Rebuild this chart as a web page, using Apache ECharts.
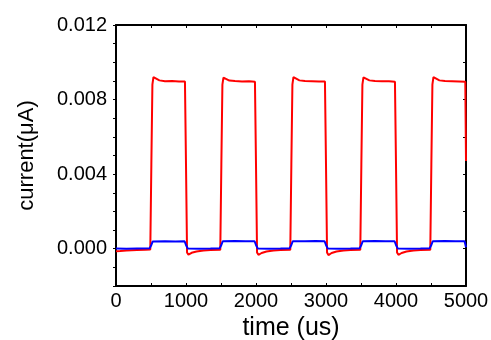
<!DOCTYPE html>
<html>
<head>
<meta charset="utf-8">
<script src="https://cdn.jsdelivr.net/npm/echarts@6/dist/echarts.min.js"></script>
<style>
  html, body { margin: 0; padding: 0; background: #fff; }
  #main { width: 491px; height: 340px; }
</style>
</head>
<body>
<div id="main"></div>
<script>
// time (us) / current (uA) pairs
var redPoints = [
  [0, -0.00013], [60, -0.00012], [150, -0.0001], [300, -0.00007], [420, -0.00005], [490, -0.00004],
  [505, 0.0045], [520, 0.0088], [535, 0.0092], [560, 0.00912], [620, 0.00903], [700, 0.00898], [800, 0.009], [900, 0.00897], [985, 0.00897],
  [1000, 0.0045], [1015, -0.0002], [1035, -0.00032], [1080, -0.00022], [1150, -0.00015], [1250, -0.0001], [1350, -0.00007], [1490, -0.00005],
  [1505, 0.0045], [1520, 0.0088], [1535, 0.00918], [1560, 0.0091], [1620, 0.00902], [1700, 0.00899], [1800, 0.00897], [1900, 0.00898], [1985, 0.00896],
  [2000, 0.0045], [2015, -0.0002], [2035, -0.00033], [2080, -0.00023], [2150, -0.00015], [2250, -0.0001], [2350, -0.00007], [2490, -0.00005],
  [2505, 0.0045], [2520, 0.0088], [2535, 0.0092], [2560, 0.00911], [2620, 0.00903], [2700, 0.00899], [2800, 0.00898], [2900, 0.00897], [2985, 0.00897],
  [3000, 0.0045], [3015, -0.0002], [3035, -0.00034], [3080, -0.00023], [3150, -0.00015], [3250, -0.0001], [3350, -0.00007], [3490, -0.00005],
  [3505, 0.0045], [3520, 0.0088], [3535, 0.00919], [3560, 0.0091], [3620, 0.00903], [3700, 0.00899], [3800, 0.00898], [3900, 0.00898], [3985, 0.00896],
  [4000, 0.0045], [4015, -0.0002], [4035, -0.00033], [4080, -0.00023], [4150, -0.00015], [4250, -0.0001], [4350, -0.00007], [4490, -0.00005],
  [4505, 0.0045], [4520, 0.0088], [4535, 0.0092], [4560, 0.00911], [4620, 0.00903], [4700, 0.00899], [4800, 0.00898], [4900, 0.00897], [4990, 0.00896],
  [5000, 0.0047]
];

var bluePoints = [
  [0, 0.00001], [150, 0.0], [300, 0.00001], [480, 0.00002], [505, 0.0002], [525, 0.00039], [700, 0.0004], [850, 0.00039], [980, 0.0004],
  [1000, 0.0002], [1025, 0.00001], [1200, 0.0], [1350, 0.00001], [1480, 0.00002], [1505, 0.0002], [1525, 0.0004], [1700, 0.00041], [1850, 0.0004], [1980, 0.0004],
  [2000, 0.0002], [2025, 0.00001], [2200, 0.0], [2350, 0.00001], [2480, 0.00002], [2505, 0.0002], [2525, 0.0004], [2700, 0.0004], [2850, 0.00041], [2980, 0.0004],
  [3000, 0.0002], [3025, 0.00001], [3200, 0.0], [3350, 0.00001], [3480, 0.00002], [3505, 0.0002], [3525, 0.0004], [3700, 0.00041], [3850, 0.0004], [3980, 0.0004],
  [4000, 0.0002], [4025, 0.00001], [4200, 0.0], [4350, 0.00001], [4480, 0.00002], [4505, 0.0002], [4525, 0.0004], [4700, 0.00041], [4850, 0.0004], [4980, 0.0004],
  [5000, 0.00008]
];

var chart = echarts.init(document.getElementById('main'), null, { renderer: 'canvas' });

var font = 'Liberation Sans, Arial, sans-serif';
var lineStyle = { color: '#000', width: 2 };

var option = {
  animation: false,
  backgroundColor: '#fff',
  grid: { left: 116, right: 25, top: 25, bottom: 54, containLabel: false, outerBoundsMode: 'none' },
  xAxis: [{
    type: 'value',
    min: 0,
    max: 5000,
    interval: 500,
    name: 'time (us)',
    nameLocation: 'middle',
    nameGap: 27,
    nameTextStyle: { fontSize: 25, color: '#000', fontFamily: font },
    axisLine: { show: true, onZero: false, lineStyle: lineStyle },
    axisTick: { show: true, inside: true, length: 3, lineStyle: { color: '#000', width: 1 } },
    axisLabel: {
      margin: 5,
      fontSize: 20,
      color: '#000',
      fontFamily: font,
      formatter: function (v) { return v % 1000 === 0 ? String(v) : ''; }
    },
    splitLine: { show: false }
  }, {
    type: 'value',
    position: 'top',
    min: 0,
    max: 5000,
    interval: 500,
    axisLine: { show: true, onZero: false, lineStyle: lineStyle },
    axisTick: { show: true, inside: true, length: 3, lineStyle: { color: '#000', width: 1 } },
    axisLabel: { show: false },
    splitLine: { show: false }
  }],
  yAxis: [{
    type: 'value',
    min: -0.002,
    max: 0.012,
    interval: 0.001,
    name: 'current(μA)',
    nameLocation: 'middle',
    nameRotate: 90,
    nameGap: 78,
    nameTextStyle: { fontSize: 22, color: '#000', fontFamily: font },
    axisLine: { show: true, onZero: false, lineStyle: lineStyle },
    axisTick: { show: true, inside: false, length: 3, lineStyle: { color: '#000', width: 1 } },
    axisLabel: {
      margin: 9,
      fontSize: 20,
      color: '#000',
      fontFamily: font,
      formatter: function (v) {
        var k = v / 0.004;
        return Math.abs(k - Math.round(k)) < 1e-6 ? Math.abs(v).toFixed(3) : '';
      }
    },
    splitLine: { show: false }
  }, {
    type: 'value',
    position: 'right',
    min: -0.002,
    max: 0.012,
    interval: 0.002,
    axisLine: { show: true, onZero: false, lineStyle: lineStyle },
    axisTick: { show: true, inside: true, length: 3, lineStyle: { color: '#000', width: 1 } },
    axisLabel: { show: false },
    splitLine: { show: false }
  }],
  series: [{
    name: 'red',
    type: 'line',
    data: redPoints,
    showSymbol: false,
    lineStyle: { color: '#ff0000', width: 2 },
    z: 2
  }, {
    name: 'blue',
    type: 'line',
    data: bluePoints,
    showSymbol: false,
    lineStyle: { color: '#0000ff', width: 2 },
    z: 3
  }]
};

chart.setOption(option);
</script>
</body>
</html>
